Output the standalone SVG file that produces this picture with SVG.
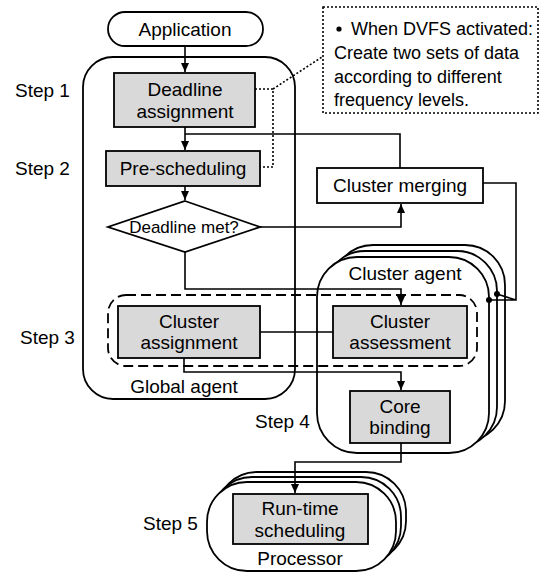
<svg xmlns="http://www.w3.org/2000/svg" width="544" height="573" viewBox="0 0 544 573">
<defs>
<style>
text{font-family:"Liberation Sans",Arial,sans-serif;font-size:19px;fill:#000;text-anchor:middle}
.lbl{text-anchor:start}
.cont{fill:#fff;stroke:#000;stroke-width:1.8}
.box{fill:#d9d9d9;stroke:#000;stroke-width:1.8}
.wbox{fill:#fff;stroke:#000;stroke-width:1.8}
.ln{fill:none;stroke:#000;stroke-width:1.6}
.dot{fill:none;stroke:#000;stroke-width:1.6;stroke-dasharray:2 2}
.dash{fill:none;stroke:#000;stroke-width:1.8;stroke-dasharray:10 5}
</style>
<marker id="arr" markerUnits="userSpaceOnUse" markerWidth="10" markerHeight="10" refX="9" refY="4" orient="auto">
<path d="M0,0 L9,4 L0,8 z" fill="#000"/>
</marker>
</defs>
<rect width="544" height="573" fill="#fff"/>

<g id="global-agent">
<rect class="cont" x="83" y="57" width="212" height="342" rx="30"/>
<text x="184" y="393">Global agent</text>
</g>

<g id="cluster-agent">
<rect class="cont" x="333" y="245" width="172" height="196" rx="40"/>
<rect class="cont" x="325" y="251" width="172" height="196" rx="40"/>
<rect class="cont" x="317" y="257" width="172" height="196" rx="40"/>
<text x="405" y="280">Cluster agent</text>
</g>

<g id="processor">
<rect class="cont" x="217" y="472" width="189" height="89" rx="40"/>
<rect class="cont" x="212" y="477" width="189" height="89" rx="40"/>
<rect class="cont" x="207" y="482" width="189" height="89" rx="40"/>
<text x="300" y="565">Processor</text>
</g>

<g id="steps">
<text class="lbl" x="15" y="97">Step 1</text>
<text class="lbl" x="15" y="175">Step 2</text>
<text class="lbl" x="20" y="344">Step 3</text>
<text class="lbl" x="255" y="428">Step 4</text>
<text class="lbl" x="143" y="530">Step 5</text>
</g>

<g id="connectors">
<path class="ln" d="M185 46 V72" marker-end="url(#arr)"/>
<path class="ln" d="M185 127 V150" marker-end="url(#arr)"/>
<path class="ln" d="M400 168 V134 H185"/>
<path class="ln" d="M185 186 V200" marker-end="url(#arr)"/>
<path class="ln" d="M260 227 H401 V204" marker-end="url(#arr)"/>
<path class="ln" d="M185 252 V289 H401 V305" marker-end="url(#arr)"/>
<path class="ln" d="M260 332 H333"/>
<path class="ln" d="M184 358 V372 H401 V390" marker-end="url(#arr)"/>
<path class="ln" d="M401 443 V462 H295 V493" marker-end="url(#arr)"/>
<path class="ln" d="M483 183 H516 V300 H489 M516 300 L497 294"/>
<circle cx="489" cy="300" r="3" fill="#000"/>
<circle cx="497" cy="294" r="3" fill="#000"/>
<path class="dot" d="M255 89 H273 V167 H260 M273 89 L322 57"/>
</g>

<g id="step3-group">
<rect class="dash" x="108" y="295" width="369" height="71" rx="18"/>
</g>

<g id="application">
<rect class="wbox" x="108" y="12" width="155" height="34" rx="17"/>
<text x="185" y="36">Application</text>
</g>

<g id="deadline-assignment">
<rect class="box" x="114" y="73" width="141" height="54"/>
<text x="185" y="96">Deadline</text>
<text x="185" y="118">assignment</text>
</g>

<g id="pre-scheduling">
<rect class="box" x="106" y="151" width="154" height="35"/>
<text x="183" y="175">Pre-scheduling</text>
</g>

<g id="deadline-met">
<polygon class="wbox" points="185,201 260,227 185,252 108,227"/>
<text x="184" y="233" style="font-size:17px">Deadline met?</text>
</g>

<g id="cluster-merging">
<rect class="wbox" x="317" y="168" width="166" height="35"/>
<text x="400" y="192">Cluster merging</text>
</g>

<g id="cluster-assignment">
<rect class="box" x="118" y="306" width="142" height="52"/>
<text x="189" y="328">Cluster</text>
<text x="189" y="349">assignment</text>
</g>

<g id="cluster-assessment">
<rect class="box" x="333" y="306" width="134" height="52"/>
<text x="400" y="328">Cluster</text>
<text x="400" y="349">assessment</text>
</g>

<g id="core-binding">
<rect class="box" x="350" y="391" width="100" height="52"/>
<text x="400" y="413">Core</text>
<text x="400" y="434">binding</text>
</g>

<g id="run-time-scheduling">
<rect class="box" x="233" y="494" width="135" height="50"/>
<text x="300" y="515">Run-time</text>
<text x="300" y="537">scheduling</text>
</g>

<g id="dvfs-note">
<rect class="dot" x="323" y="7" width="215" height="106"/>
<circle cx="339" cy="29" r="2.6" fill="#000"/>
<text class="lbl" x="351" y="35" style="font-size:18px">When DVFS activated:</text>
<text class="lbl" x="334" y="59" style="font-size:18px">Create two sets of data</text>
<text class="lbl" x="334" y="83" style="font-size:18px">according to different</text>
<text class="lbl" x="334" y="106" style="font-size:18px">frequency levels.</text>
</g>
</svg>
